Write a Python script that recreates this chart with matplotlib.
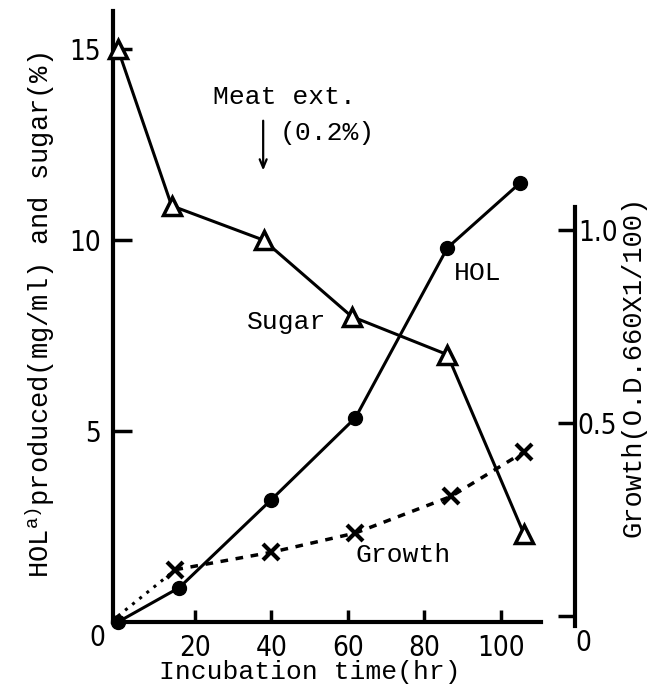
import matplotlib
matplotlib.use("Agg")
import matplotlib.pyplot as plt
from matplotlib import font_manager

# incubation data
hours_sugar = [0, 14, 38, 61, 86, 106]
sugar = [15.0, 10.9, 10.0, 8.0, 7.0, 2.3]

hours_hol = [0, 16, 40, 62, 86, 105]
hol = [0.0, 0.9, 3.2, 5.35, 9.8, 11.5]

hours_growth = [0, 15, 40, 62, 87, 106]
growth = [0.0, 0.12, 0.165, 0.215, 0.31, 0.425]

x_ticks = [20, 40, 60, 80, 100]
left_ticks = [5, 10, 15]
right_ticks = [0, 0.5, 1.0]

# narrow digits if a condensed face is around
narrow = [f for f in font_manager.fontManager.ttflist
          if f.name == "DejaVu Sans" and "ondensed" in str(f.stretch) + f.fname]
num_kw = dict(family="DejaVu Sans", fontsize=19)
if narrow:
    num_kw["fontstretch"] = "condensed"
    num_kw["fontsize"] = 20
txt_font = "Liberation Mono"

plt.rcParams["mathtext.fontset"] = "custom"
plt.rcParams["mathtext.tt"] = txt_font
plt.rcParams["mathtext.rm"] = txt_font

W, H = 649, 691
fig = plt.figure(figsize=(W / 100, H / 100), dpi=100)

# axes box in pixels: left 113, right 575, bottom 622, top 11
ax = fig.add_axes([113 / W, (H - 622) / H, (575 - 113) / W, (622 - 11) / H])
ax.set_xlim(-1.3, 119.3)
ax.set_ylim(0, 16)

ax2 = ax.twinx()
ax2.set_ylim(-0.0155, 1.567)

for a in (ax, ax2):
    for s in a.spines.values():
        s.set_visible(False)
    a.patch.set_visible(False)

ax.spines["left"].set_visible(True)
ax.spines["bottom"].set_visible(True)
ax.spines["left"].set_linewidth(3)
ax.spines["bottom"].set_linewidth(3)
ax.spines["bottom"].set_bounds(-1.3, 110.5)
ax2.spines["right"].set_visible(True)
ax2.spines["right"].set_linewidth(3)
ax2.spines["right"].set_bounds(-0.025, 1.06)

# sugar
ax.plot(hours_sugar, sugar, color="black", lw=2.2, marker="^", ms=13,
        mfc="white", mec="black", mew=2.5, clip_on=False, zorder=4)
# HOL
ax.plot(hours_hol, hol, color="black", lw=2.2, marker="o", ms=10,
        mfc="black", mec="black", clip_on=False, zorder=5)
# growth: dotted start then dashed
ax2.plot(hours_growth[:2], growth[:2], color="black", lw=2.2, ls=(0, (1, 2)),
         clip_on=False, zorder=3)
ax2.plot(hours_growth[1:], growth[1:], color="black", lw=2.5, ls=(0, (2.2, 2.2)),
         clip_on=False, zorder=3)
ax2.plot(hours_growth[1:], growth[1:], ls="none", marker="x", ms=11, mew=3,
         color="black", clip_on=False, zorder=6)

ax.set_xticks(x_ticks)
ax.set_xticklabels([str(t) for t in x_ticks], **num_kw)
ax.tick_params(axis="x", direction="in", length=9, width=2.5, pad=9)

ax.set_yticks(left_ticks)
ax.set_yticklabels([str(t) for t in left_ticks], **num_kw)
ax.tick_params(axis="y", direction="in", length=14, width=2.5, pad=9)

ax2.set_yticks(right_ticks)
ax2.set_yticklabels(["", "0.5", "1.0"], **num_kw)
ax2.tick_params(axis="y", direction="in", length=12, width=2.5, pad=2)

# zero labels below the axes
fig.text(97 / W, 1 - 638 / H, "0", ha="center", va="center", **num_kw)
fig.text(583 / W, 1 - 643 / H, "0", ha="center", va="center", **num_kw)

# annotations
ax.text(24.8, 13.74, "Meat ext.", family=txt_font, fontsize=19,
        ha="left", va="center")
ax.text(42.3, 12.8, "(0.2%)", family=txt_font, fontsize=19,
        ha="left", va="center")
ax.annotate("", xy=(37.9, 11.75), xytext=(37.9, 13.2),
            arrowprops=dict(arrowstyle="->,head_length=0.6,head_width=0.25",
                            lw=1.6, color="black"))
ax.text(94, 9.14, "HOL", family=txt_font, fontsize=19, ha="center", va="center")
ax.text(44.1, 7.85, "Sugar", family=txt_font, fontsize=19, ha="center", va="center")
ax.text(74.4, 1.75, "Growth", family=txt_font, fontsize=19, ha="center", va="center")

fig.text(310 / W, 1 - 672 / H, "Incubation time(hr)", family=txt_font,
         fontsize=19, ha="center", va="center")
fig.text(40 / W, 1 - 315 / H, r"HOL$^{\mathtt{a)}}$produced(mg/ml) and sugar(%)",
         family=txt_font, fontsize=19.5, rotation=90, ha="center", va="center")
fig.text(634 / W, 1 - 366 / H, "Growth(O.D.660X1/100)", family=txt_font,
         fontsize=19.5, rotation=90, ha="center", va="center")

fig.savefig("out.png", dpi=100)
